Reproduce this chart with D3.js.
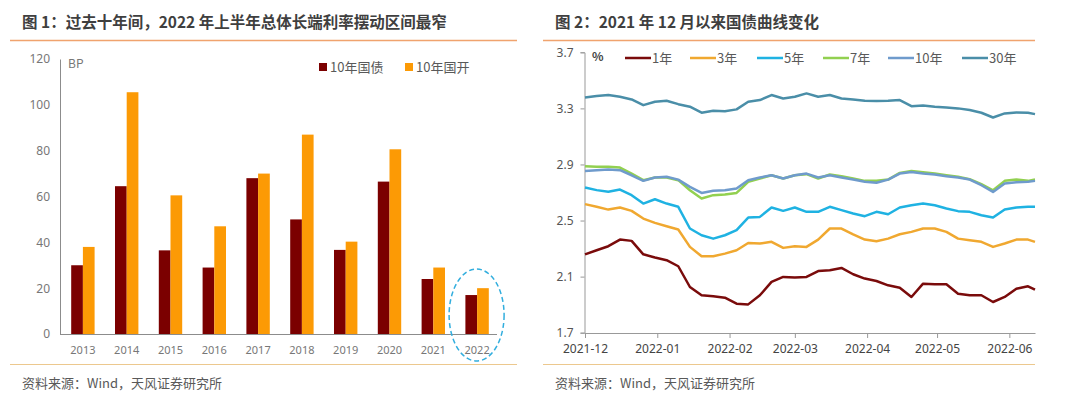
<!DOCTYPE html>
<html>
<head>
<meta charset="utf-8">
<script src="https://cdn.jsdelivr.net/npm/d3@7"></script>
<style>
  body { margin: 0; background: #fff; }
  svg { display: block; font-family: "Noto Sans CJK SC", "Noto Sans", sans-serif; }
</style>
</head>
<body>
<div id="chart"></div>
<script>
// figure 1: yearly swing range of long-end yields (BP)
var years = ["2013", "2014", "2015", "2016", "2017", "2018", "2019", "2020", "2021", "2022"];
var govt10 = [30, 64.5, 36.5, 29, 68, 50, 36.7, 66.5, 24, 17];
var cdb10 = [38, 105.5, 60.5, 47, 70, 87, 40.3, 80.6, 29, 20];
var barTicks = [0, 20, 40, 60, 80, 100, 120];

// figure 2: treasury yields since 2021-12 (%)
var dates = ["2021-12-01", "2021-12-06", "2021-12-11", "2021-12-16", "2021-12-21", "2021-12-26", "2021-12-31",
  "2022-01-05", "2022-01-10", "2022-01-15", "2022-01-20", "2022-01-25", "2022-01-30", "2022-02-04",
  "2022-02-09", "2022-02-14", "2022-02-19", "2022-02-24", "2022-03-01", "2022-03-06", "2022-03-11",
  "2022-03-16", "2022-03-21", "2022-03-26", "2022-03-31", "2022-04-05", "2022-04-10", "2022-04-15",
  "2022-04-20", "2022-04-25", "2022-04-30", "2022-05-05", "2022-05-10", "2022-05-15", "2022-05-20",
  "2022-05-25", "2022-05-30", "2022-06-04", "2022-06-09", "2022-06-12"];
var y1 = [2.259, 2.288, 2.317, 2.364, 2.355, 2.259, 2.236, 2.217, 2.174, 2.026, 1.967, 1.96, 1.95, 1.907,
  1.902, 1.967, 2.062, 2.098, 2.093, 2.098, 2.14, 2.145, 2.162, 2.117, 2.086, 2.069, 2.038, 2.021,
  1.955, 2.05, 2.045, 2.045, 1.978, 1.967, 1.967, 1.919, 1.955, 2.014, 2.031, 2.007];
var y3 = [2.617, 2.598, 2.578, 2.593, 2.569, 2.514, 2.483, 2.459, 2.436, 2.312, 2.245, 2.245, 2.264, 2.288,
  2.34, 2.336, 2.348, 2.305, 2.317, 2.312, 2.364, 2.443, 2.443, 2.402, 2.364, 2.352, 2.371, 2.402,
  2.419, 2.443, 2.443, 2.419, 2.371, 2.36, 2.348, 2.312, 2.336, 2.364, 2.364, 2.348];
var y5 = [2.736, 2.717, 2.705, 2.721, 2.681, 2.621, 2.652, 2.621, 2.598, 2.443, 2.395, 2.371, 2.395, 2.431,
  2.521, 2.526, 2.593, 2.569, 2.593, 2.562, 2.562, 2.598, 2.574, 2.55, 2.531, 2.562, 2.545, 2.593,
  2.609, 2.621, 2.609, 2.586, 2.567, 2.562, 2.538, 2.521, 2.579, 2.593, 2.598, 2.598];
var y7 = [2.888, 2.883, 2.883, 2.878, 2.835, 2.788, 2.807, 2.807, 2.788, 2.716, 2.657, 2.681, 2.685, 2.697,
  2.776, 2.8, 2.823, 2.8, 2.823, 2.831, 2.8, 2.828, 2.816, 2.8, 2.783, 2.783, 2.792, 2.84,
  2.854, 2.845, 2.835, 2.823, 2.812, 2.795, 2.759, 2.716, 2.783, 2.792, 2.783, 2.792];
var y10 = [2.854, 2.859, 2.864, 2.859, 2.823, 2.783, 2.807, 2.812, 2.792, 2.74, 2.697, 2.712, 2.716, 2.728,
  2.788, 2.807, 2.823, 2.8, 2.823, 2.835, 2.807, 2.823, 2.807, 2.792, 2.776, 2.769, 2.792, 2.835,
  2.847, 2.835, 2.828, 2.816, 2.807, 2.792, 2.752, 2.704, 2.764, 2.773, 2.776, 2.783];
var y30 = [3.378, 3.388, 3.395, 3.383, 3.364, 3.323, 3.347, 3.354, 3.33, 3.312, 3.269, 3.283, 3.28, 3.293,
  3.347, 3.359, 3.395, 3.371, 3.383, 3.407, 3.383, 3.395, 3.371, 3.364, 3.354, 3.352, 3.354, 3.359,
  3.316, 3.321, 3.312, 3.307, 3.3, 3.288, 3.269, 3.235, 3.264, 3.271, 3.269, 3.259];
var lineNames = ["1年", "3年", "5年", "7年", "10年", "30年"];
var lineColors = ["#7a0b0b", "#f0a830", "#1fb2e2", "#92d050", "#6f9bcc", "#4a8ea8"];
var lineTicks = [1.7, 2.1, 2.5, 2.9, 3.3, 3.7];

var svg = d3.select("#chart")
    .append("svg")
    .attr("width", 1080)
    .attr("height", 399);

// ---------- panel headers / footers ----------
function drawFrame(x0, x1, title)
{
    svg.append("text")
        .attr("x", x0 + 12)
        .attr("y", 28)
        .attr("font-size", "15.5px")
        .attr("font-weight", "bold")
        .attr("fill", "#3f3f3f")
        .text(title);

    svg.append("line")
        .attr("x1", x0).attr("x2", x1)
        .attr("y1", 40.5).attr("y2", 40.5)
        .attr("stroke", "#f0a36e")
        .attr("stroke-width", 1.5);

    svg.append("line")
        .attr("x1", x0).attr("x2", x1)
        .attr("y1", 364.5).attr("y2", 364.5)
        .attr("stroke", "#ecc88e")
        .attr("stroke-width", 1.2);

    svg.append("text")
        .attr("x", x0 + 12)
        .attr("y", 388)
        .attr("font-size", "13px")
        .attr("fill", "#595959")
        .text("资料来源：Wind，天风证券研究所");
}

drawFrame(10, 517, "图 1：过去十年间，2022 年上半年总体长端利率摆动区间最窄");
drawFrame(543, 1035, "图 2：2021 年 12 月以来国债曲线变化");

// ---------- figure 1: bars ----------
var xBand = d3.scaleBand()
    .domain(years)
    .range([61, 499]);

var yBar = d3.scaleLinear()
    .domain([0, 120])
    .range([334, 59]);

var barW = 11.7;

var g1 = svg.append("g");

g1.append("g")
    .attr("transform", "translate(60,0)")
    .call(d3.axisLeft(yBar).tickValues(barTicks).tickSize(0).tickPadding(10))
    .call(function(g) { g.select(".domain").attr("stroke", "#8c8c8c"); })
    .selectAll("text")
    .attr("font-size", "12px")
    .attr("font-family", "Noto Sans, sans-serif")
    .attr("fill", "#777");

g1.append("g")
    .attr("transform", "translate(0,334)")
    .call(d3.axisBottom(xBand).tickSize(0).tickPadding(12))
    .call(function(g) { g.select(".domain").attr("stroke", "#8c8c8c").attr("d", "M60,0.5H497"); })
    .selectAll("text")
    .attr("font-size", "11px")
    .attr("font-family", "Noto Sans, sans-serif")
    .attr("fill", "#777");

g1.selectAll(".bar-g")
    .data(govt10)
    .enter().append("rect")
    .attr("class", "bar-g")
    .attr("fill", "#7b0000")
    .attr("x", function(d, i) { return xBand(years[i]) + xBand.bandwidth() / 2 - barW; })
    .attr("y", function(d) { return yBar(d); })
    .attr("width", barW)
    .attr("height", function(d) { return yBar(0) - yBar(d); });

g1.selectAll(".bar-c")
    .data(cdb10)
    .enter().append("rect")
    .attr("class", "bar-c")
    .attr("fill", "#fc9a05")
    .attr("x", function(d, i) { return xBand(years[i]) + xBand.bandwidth() / 2; })
    .attr("y", function(d) { return yBar(d); })
    .attr("width", barW)
    .attr("height", function(d) { return yBar(0) - yBar(d); });

g1.append("text")
    .attr("x", 68)
    .attr("y", 68)
    .attr("font-size", "12px")
    .attr("fill", "#777")
    .text("BP");

var legend1 = [["10年国债", "#7b0000", 319], ["10年国开", "#fc9a05", 405]];
legend1.forEach(function(d) {
    g1.append("rect")
        .attr("x", d[2]).attr("y", 63)
        .attr("width", 8).attr("height", 8)
        .attr("fill", d[1]);
    g1.append("text")
        .attr("x", d[2] + 11).attr("y", 71.5)
        .attr("font-size", "13px")
        .attr("fill", "#595959")
        .text(d[0]);
});

// dashed highlight round the last year
g1.append("ellipse")
    .attr("cx", xBand("2022") + xBand.bandwidth() / 2 - 0.5)
    .attr("cy", 315)
    .attr("rx", 27.5)
    .attr("ry", 46)
    .attr("fill", "none")
    .attr("stroke", "#32aede")
    .attr("stroke-width", 1.5)
    .attr("stroke-dasharray", "5,3");

// ---------- figure 2: lines ----------
var parse = d3.timeParse("%Y-%m-%d");
var xTime = d3.scaleTime()
    .domain([parse("2021-12-01"), parse("2022-06-12")])
    .range([585, 1035]);

var yLine = d3.scaleLinear()
    .domain([1.7, 3.7])
    .range([332.7, 52.3]);

var g2 = svg.append("g");

g2.append("g")
    .attr("transform", "translate(584.5,0)")
    .call(d3.axisLeft(yLine).tickValues(lineTicks).tickSize(4).tickPadding(7).tickFormat(d3.format(".1f")))
    .call(function(g) { g.selectAll("line, .domain").attr("stroke", "#999"); })
    .selectAll("text")
    .attr("font-size", "12px")
    .attr("font-family", "Noto Sans, sans-serif")
    .attr("fill", "#555");

var months = d3.timeMonth.range(parse("2021-12-01"), parse("2022-06-13"));
g2.append("g")
    .attr("transform", "translate(0,333)")
    .call(d3.axisBottom(xTime).tickValues(months).tickSize(5).tickSizeOuter(0).tickPadding(6).tickFormat(d3.timeFormat("%Y-%m")))
    .call(function(g) { g.selectAll("line, .domain").attr("stroke", "#999"); })
    .selectAll("text")
    .attr("font-size", "12px")
    .attr("font-family", "Noto Sans, sans-serif")
    .attr("fill", "#444");

var series = [y1, y3, y5, y7, y10, y30];
var line = d3.line()
    .x(function(d, i) { return xTime(parse(dates[i])); })
    .y(function(d) { return yLine(d); });

// 7Y drawn before 10Y so the 10Y line sits on top, 30Y last
g2.selectAll(".yield")
    .data(series)
    .enter().append("path")
    .attr("class", "yield")
    .attr("fill", "none")
    .attr("stroke", function(d, k) { return lineColors[k]; })
    .attr("stroke-width", 2.5)
    .attr("stroke-linejoin", "round")
    .attr("d", function(d) { return line(d); });

g2.append("text")
    .attr("x", 592)
    .attr("y", 61)
    .attr("font-size", "12px")
    .attr("font-weight", "bold")
    .attr("fill", "#444")
    .text("%");

var legendX = [625, 690, 757, 823, 888, 962];
lineNames.forEach(function(name, k) {
    g2.append("line")
        .attr("x1", legendX[k]).attr("x2", legendX[k] + 26)
        .attr("y1", 58).attr("y2", 58)
        .attr("stroke", lineColors[k])
        .attr("stroke-width", 2.5);
    g2.append("text")
        .attr("x", legendX[k] + 27)
        .attr("y", 63)
        .attr("font-size", "13px")
        .attr("fill", "#595959")
        .text(name);
});
</script>
</body>
</html>
